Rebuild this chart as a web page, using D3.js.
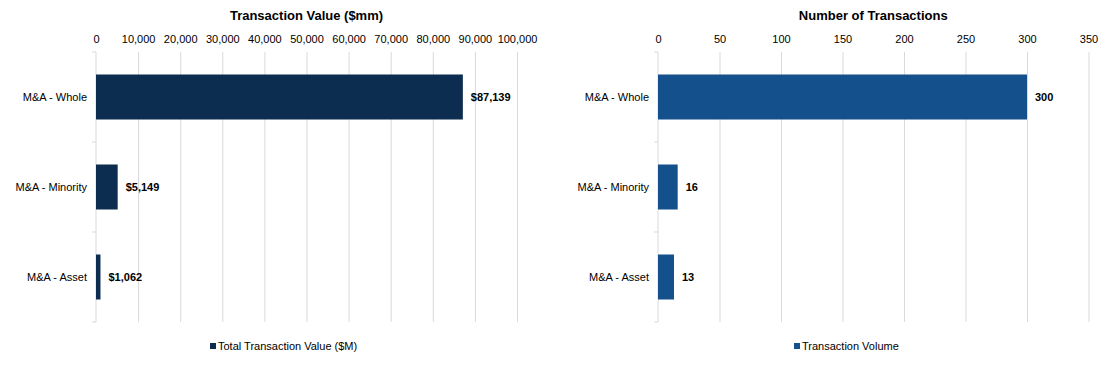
<!DOCTYPE html>
<html><head><meta charset="utf-8">
<script src="https://cdn.jsdelivr.net/npm/d3@7"></script>
<style>
body{margin:0;background:#fff;}
text{font-family:"Liberation Sans",Arial,sans-serif;fill:#000;}
</style></head>
<body>
<svg id="chart" width="1113" height="367"></svg>
<script>
const categories = ["M&A - Whole", "M&A - Minority", "M&A - Asset"];
const valueSeries = [87139, 5149, 1062];
const countSeries = [300, 16, 13];
const valueTicks = [0,10000,20000,30000,40000,50000,60000,70000,80000,90000,100000];
const countTicks = [0,50,100,150,200,250,300,350];

const svg = d3.select("#chart");
const yTop = 52, yBot = 322;

function panel(cfg){
  const g = svg.append("g");
  const x = d3.scaleLinear().domain(cfg.domain).range(cfg.range);
  const y = d3.scaleBand().domain(categories).range([yTop, yBot]).paddingInner(0.5).paddingOuter(0.25);
  // title
  g.append("text").attr("x", (cfg.range[0]+cfg.range[1])/2).attr("y", 20)
    .attr("text-anchor","middle").style("font-size","13px").style("font-weight","bold").text(cfg.title);
  // top tick labels
  const ax = d3.axisTop(x).tickValues(cfg.ticks).tickFormat(d3.format(",")).tickSize(0).tickPadding(0);
  const axg = g.append("g").attr("transform",`translate(0,43)`).call(ax);
  axg.select(".domain").remove();
  axg.selectAll("text").style("font-size","11px").style("font-family","'Liberation Sans',Arial,sans-serif").attr("fill","#000");
  // gridlines
  const grid = d3.axisBottom(x).tickValues(cfg.ticks.slice(1)).tickSize(yBot-yTop).tickFormat("");
  const gg = g.append("g").attr("transform",`translate(0,${yTop})`).call(grid);
  gg.select(".domain").remove();
  gg.selectAll("line").attr("stroke","#d9d9d9");
  // left axis line with category separators
  const x0 = x(0);
  g.append("line").attr("x1",x0).attr("x2",x0).attr("y1",yTop).attr("y2",yBot).attr("stroke","#d9d9d9");
  const seps = [yTop].concat(categories.map(c => y(c)+y.bandwidth()+y.step()*y.paddingInner()/2).slice(0,2)).concat([yBot]);
  g.selectAll(".sep").data(seps).join("line").attr("x1",x0-4).attr("x2",x0).attr("y1",d=>d).attr("y2",d=>d).attr("stroke","#d9d9d9");
  // category labels
  g.selectAll(".cat").data(categories).join("text")
    .attr("x", x0-9).attr("y", d=>y(d)+y.bandwidth()/2).attr("dy","0.35em")
    .attr("text-anchor","end").style("font-size","11px").text(d=>d);
  // bars
  g.selectAll(".bar").data(cfg.values).join("rect")
    .attr("x", x0).attr("y",(d,i)=>y(categories[i])).attr("height",y.bandwidth())
    .attr("width", d=>x(d)-x0).attr("fill",cfg.color);
  // value labels
  g.selectAll(".val").data(cfg.values).join("text")
    .attr("x", d=>x(d)+8).attr("y",(d,i)=>y(categories[i])+y.bandwidth()/2).attr("dy","0.35em")
    .style("font-size","11px").style("font-weight","bold").text(cfg.fmt);
  // legend
  const lg = g.append("g");
  lg.append("text").attr("x",cfg.legendX+8).attr("y",346).attr("dy","0.35em").style("font-size","11px").text(cfg.legend);
  lg.append("rect").attr("x",cfg.legendX).attr("y",343).attr("width",6).attr("height",6).attr("fill",cfg.color);
}

panel({title:"Transaction Value ($mm)", domain:[0,100000], range:[96,517], ticks:valueTicks,
  values:valueSeries, color:"#0c2d4f", fmt:d=>"$"+d3.format(",")(d), legend:"Total Transaction Value ($M)", legendX:210});
panel({title:"Number of Transactions", domain:[0,350], range:[658,1088.5], ticks:countTicks,
  values:countSeries, color:"#14508c", fmt:d=>d3.format(",")(d), legend:"Transaction Volume", legendX:794});
</script>
</body></html>
